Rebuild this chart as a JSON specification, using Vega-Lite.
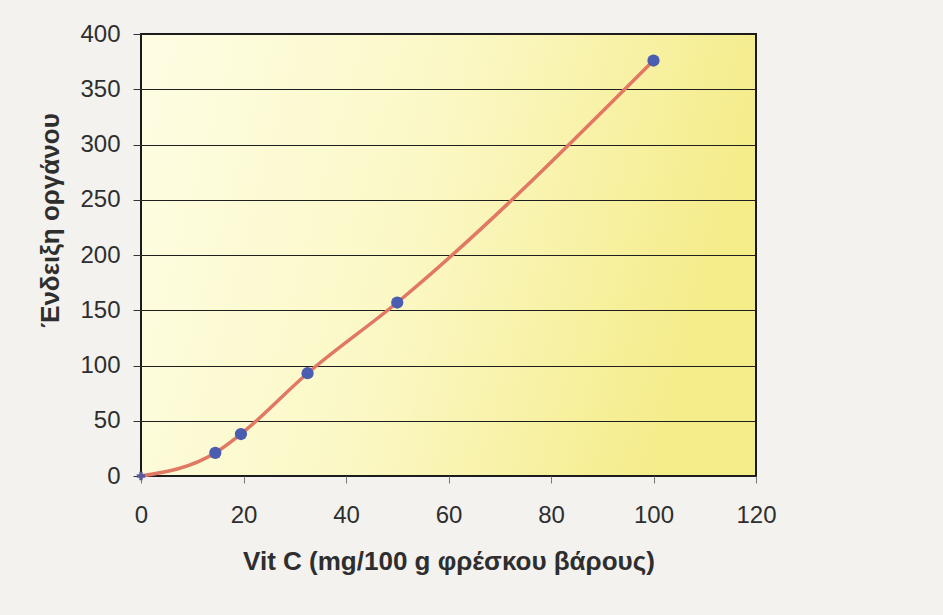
{
  "$schema": "https://vega.github.io/schema/vega-lite/v6.json",
  "width": 615,
  "height": 442,
  "autosize": {"type": "none"},
  "padding": {"left": 141, "top": 34, "right": 187, "bottom": 139},
  "background": "#f3f2ef",
  "config": {
    "font": "Liberation Sans",
    "view": {
      "stroke": "#1a1a1a",
      "strokeWidth": 2,
      "fill": {
        "gradient": "linear",
        "x1": 0, "y1": 0, "x2": 1, "y2": 0.2,
        "stops": [
          {"offset": 0, "color": "#fefde4"},
          {"offset": 0.5, "color": "#fbf8c6"},
          {"offset": 1, "color": "#f5ec8a"}
        ]
      }
    },
    "axis": {
      "labelFont": "Liberation Sans",
      "labelFontSize": 24,
      "labelColor": "#2e2e2e",
      "labelFlush": false,
      "labelOverlap": false,
      "titleFont": "Liberation Sans",
      "titleFontSize": 26,
      "titleFontWeight": "bold",
      "titleColor": "#2e2e2e",
      "domain": false,
      "tickColor": "#333333",
      "tickSize": 8
    }
  },
  "data": {
    "values": [
      {"vitc": 0, "reading": 0},
      {"vitc": 14.5, "reading": 21},
      {"vitc": 19.5, "reading": 38},
      {"vitc": 32.5, "reading": 93},
      {"vitc": 50, "reading": 157},
      {"vitc": 100, "reading": 376}
    ]
  },
  "encoding": {
    "x": {
      "field": "vitc",
      "type": "quantitative",
      "scale": {"domain": [0, 120], "nice": false},
      "axis": {
        "title": "Vit C (mg/100 g φρέσκου βάρους)",
        "values": [0, 20, 40, 60, 80, 100, 120],
        "grid": false,
        "tickSize": 7,
        "tickColor": "#777777",
        "labelPadding": 20,
        "titlePadding": 21
      }
    },
    "y": {
      "field": "reading",
      "type": "quantitative",
      "scale": {"domain": [0, 400], "nice": false},
      "axis": {
        "title": "Ένδειξη οργάνου",
        "values": [0, 50, 100, 150, 200, 250, 300, 350, 400],
        "grid": true,
        "gridColor": "#1e1e1e",
        "gridOpacity": 1,
        "gridWidth": 1,
        "labelPadding": 13,
        "titlePadding": 16,
        "titleY": 186
      }
    }
  },
  "layer": [
    {
      "mark": {"type": "line", "interpolate": "monotone", "color": "#e07863", "strokeWidth": 3.5}
    },
    {
      "mark": {"type": "point", "filled": true, "opacity": 1},
      "encoding": {
        "shape": {"condition": {"test": "datum.vitc == 0", "value": "cross"}, "value": "circle"},
        "color": {"condition": {"test": "datum.vitc == 0", "value": "#5a5a9a"}, "value": "#4a5db0"},
        "size": {"condition": {"test": "datum.vitc == 0", "value": 70}, "value": 150}
      }
    }
  ]
}
